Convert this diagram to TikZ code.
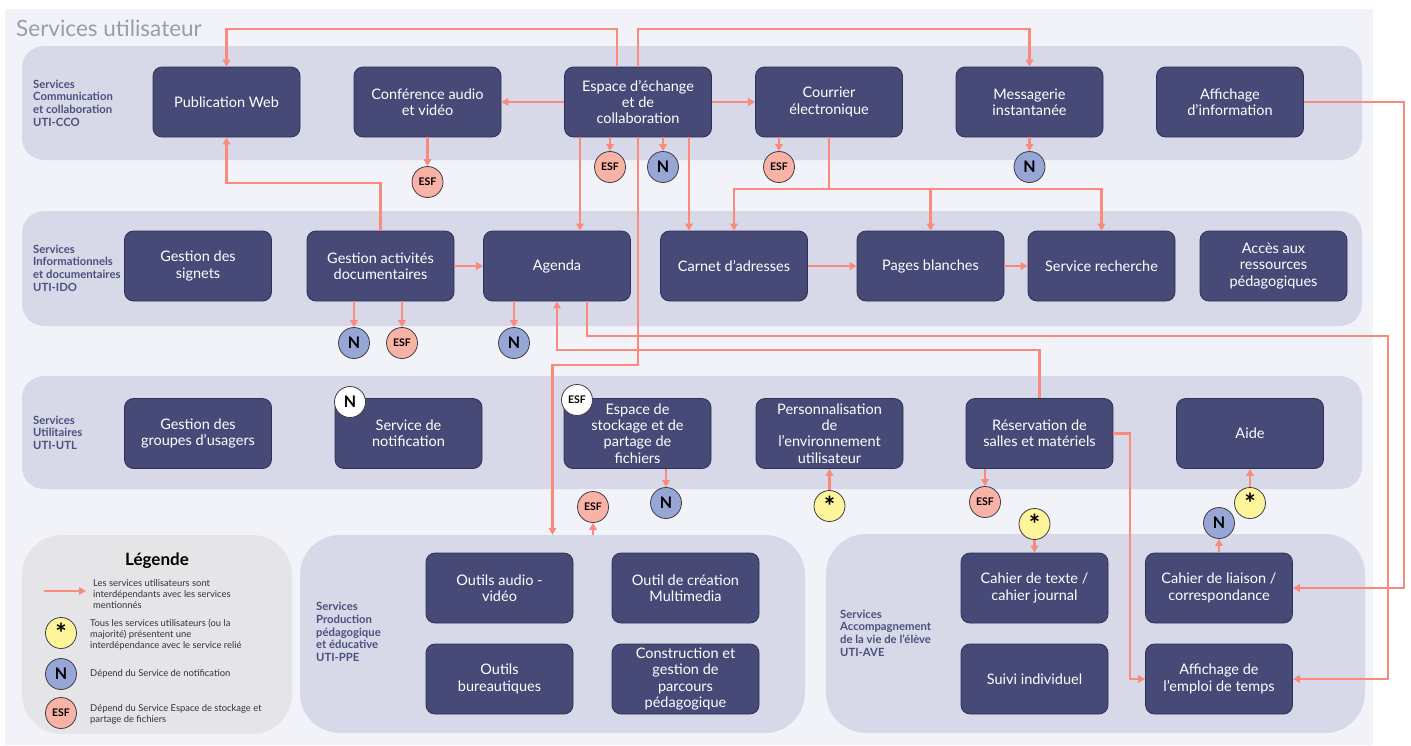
\documentclass[tikz,border=0pt]{standalone}
\usepackage{fontspec}
\setmainfont{Lato}
\usetikzlibrary{arrows.meta}

\definecolor{pagebg}{HTML}{F2F3F9}
\definecolor{bandfill}{HTML}{D8D9E8}
\definecolor{legfill}{HTML}{E5E5E7}
\definecolor{boxfill}{HTML}{474A77}
\definecolor{boxline}{HTML}{2E3058}
\definecolor{linkcol}{HTML}{F98A7C}
\definecolor{esffill}{HTML}{F9B2A6}
\definecolor{nfill}{HTML}{98A6D6}
\definecolor{starfill}{HTML}{FDF49C}
\definecolor{badgeline}{HTML}{3C3C46}
\definecolor{grplabel}{HTML}{4B4F7E}
\definecolor{titlecol}{HTML}{9A9CA8}
\definecolor{legtextcol}{HTML}{333338}

\tikzset{
  band/.style={fill=bandfill, rounded corners=22pt, inner sep=0pt},
  lowband/.style={band, rounded corners=40pt},
  svc/.style={draw=boxline, fill=boxfill, rounded corners=9pt, line width=0.8pt,
    minimum width=147pt, minimum height=70pt, inner sep=2pt, text=white,
    align=center, font=\fontsize{14.5}{16.3}\selectfont},
  grp/.style={anchor=west, align=left, text=grplabel, inner sep=0pt,
    font=\fontsize{11.3}{12.6}\selectfont\bfseries},
  badge/.style={circle, draw=badgeline, line width=0.8pt, minimum size=31pt, inner sep=0pt},
  esf/.style={badge, fill=esffill, font=\fontsize{10.5}{10.5}\selectfont\bfseries},
  ndep/.style={badge, fill=nfill, font=\fontsize{16}{16}\selectfont\bfseries},
  allsvc/.style={badge, fill=starfill, font=\fontsize{27}{27}\selectfont\bfseries},
  esfw/.style={esf, fill=white},
  ndepw/.style={ndep, fill=white},
  link/.style={draw=linkcol, line width=2.1pt, -{Triangle[length=7pt,width=7.5pt]}},
  legtext/.style={anchor=west, align=left, inner sep=0pt, text=legtextcol,
    font=\fontsize{9.4}{11}\selectfont},
}

\newcommand{\astk}{\raisebox{-7.5pt}{*}}

\begin{document}
\begin{tikzpicture}[x=1pt,y=-1pt]
    \useasboundingbox (0,0) rectangle (1411,745);
    \fill[pagebg] (5,9) rectangle (1373,745);

    \node[anchor=west, text=titlecol, inner sep=0pt, font=\fontsize{22.5}{22.5}\selectfont] (title) at (16,28) {Services utilisateur};

    \node[band, minimum width=1340pt, minimum height=114pt] (cco) at (692,103) {};
    \node[band, minimum width=1340pt, minimum height=115pt] (ido) at (692,268.5) {};
    \node[band, minimum width=1340pt, minimum height=113pt] (utl) at (692,432.5) {};
    \node[lowband, fill=legfill, minimum width=270pt, minimum height=199pt] (legend) at (157,634.5) {};
    \node[lowband, minimum width=505pt, minimum height=198pt] (ppe) at (552.5,634) {};
    \node[lowband, minimum width=539pt, minimum height=199pt] (ave) at (1095.5,633.5) {};

    \node[grp] (lblcco) at (33,103) {Services\\Communication\\et collaboration\\UTI-CCO};
    \node[grp] (lblido) at (33,268) {Services\\Informationnels\\et documentaires\\UTI-IDO};
    \node[grp] (lblutl) at (33,432.5) {Services\\Utilitaires\\UTI-UTL};
    \node[grp] (lblppe) at (316,632) {Services\\Production\\pédagogique\\et éducative\\UTI-PPE};
    \node[grp] (lblave) at (840,633) {Services\\Accompagnement\\de la vie de l’élève\\UTI-AVE};

    \node[svc] (pubweb) at (226.5,102) {Publication Web};
    \node[svc] (conf) at (427.5,102) {Conférence audio\\et vidéo};
    \node[svc] (echange) at (638,102) {Espace d’échange\\et de\\collaboration};
    \node[svc] (courrier) at (829,102) {Courrier\\électronique};
    \node[svc] (messag) at (1029.5,102) {Messagerie\\instantanée};
    \node[svc] (affinfo) at (1230,102) {Affichage\\d’information};

    \node[svc] (signets) at (198,266) {Gestion des\\signets};
    \node[svc] (gestdoc) at (380.5,266) {Gestion activités\\documentaires};
    \node[svc] (agenda) at (557,266) {Agenda};
    \node[svc] (carnet) at (734,266) {Carnet d’adresses};
    \node[svc] (pages) at (930.5,266) {Pages blanches};
    \node[svc] (recherche) at (1101.5,266) {Service recherche};
    \node[svc] (acces) at (1273.5,266) {Accès aux\\ressources\\pédagogiques};

    \node[svc] (groupes) at (198,433.5) {Gestion des\\groupes d’usagers};
    \node[svc] (notif) at (408.5,433.5) {Service de\\notification};
    \node[svc] (stockage) at (637.5,433.5) {Espace de\\stockage et de\\partage de\\fichiers};
    \node[svc] (perso) at (829.5,433.5) {Personnalisation\\de\\l’environnement\\utilisateur};
    \node[svc] (reserv) at (1039.5,433.5) {Réservation de\\salles et matériels};
    \node[svc] (aide) at (1250,433.5) {Aide};

    \node[svc] (audio) at (499.5,588) {Outils audio -\\vidéo};
    \node[svc] (multi) at (685.5,588) {Outil de création\\Multimedia};
    \node[svc] (bureau) at (499.5,679) {Outils\\bureautiques};
    \node[svc] (constr) at (685.5,679) {Construction et\\gestion de\\parcours\\pédagogique};
    \node[svc] (cahtexte) at (1034.5,588) {Cahier de texte /\\cahier journal};
    \node[svc] (liaison) at (1219,588) {Cahier de liaison /\\correspondance};
    \node[svc] (suivi) at (1034.5,679) {Suivi individuel};
    \node[svc] (emploi) at (1219,679) {Affichage de\\l’emploi de temps};

    \node[esf] (esfconf) at (427.5,182) {ESF};
    \node[esf] (esfech) at (610,167) {ESF};
    \node[ndep] (nech) at (663,167) {N};
    \node[esf] (esfcour) at (779,167) {ESF};
    \node[ndep] (nmess) at (1029.5,167) {N};
    \node[ndep] (ndoc) at (354,343) {N};
    \node[esf] (esfdoc) at (402,343) {ESF};
    \node[ndep] (nagenda) at (514,343) {N};
    \node[ndepw] (nnotif) at (350,402) {N};
    \node[esfw] (esfstock) at (577,400) {ESF};
    \node[esf] (esfppe) at (593,507) {ESF};
    \node[ndep] (nstock) at (666,503) {N};
    \node[allsvc] (allperso) at (829.5,506) {\astk};
    \node[esf] (esfres) at (985,502) {ESF};
    \node[allsvc] (alltexte) at (1034.5,524) {\astk};
    \node[ndep] (nliaison) at (1219,523) {N};
    \node[allsvc] (allaide) at (1250,503) {\astk};

    \draw[link] ([xshift=-21pt]echange.north) -- ++(0,-38) -| (pubweb.north);
    \draw[link] (echange.north) -- ++(0,-38) -| (messag.north);
    \draw[link] (echange.west) -- (conf.east);
    \draw[link] (echange.east) -- (courrier.west);
    \draw[link] (gestdoc.north) -- ++(0,-48) -| (pubweb.south);
    \draw[link] (conf.south) -- (esfconf.north);

    \draw[link] ([xshift=-58pt]echange.south) -- ([xshift=23pt]agenda.north);
    \draw[link] ([xshift=-28pt]echange.south) -- (esfech.north);
    \draw[link] ([xshift=25pt]echange.south) -- (nech.north);
    \draw[link] ([xshift=51pt]echange.south) -- ([xshift=-45pt]carnet.north);
    \draw[link] (echange.south) -- ++(0,228) -| (ppe.north);

    \draw[link] ([xshift=-50pt]courrier.south) -- (esfcour.north);
    \draw[link] (courrier.south) -- ++(0,52) -| (carnet.north);
    \draw[link] (courrier.south) -- ++(0,52) -| (pages.north);
    \draw[link] (courrier.south) -- ++(0,52) -| (recherche.north);
    \draw[link] (messag.south) -- (nmess.north);
    \draw[link] (affinfo.east) -- ++(100,0) |- (liaison.east);

    \draw[link] (gestdoc.east) -- (agenda.west);
    \draw[link] (carnet.east) -- (pages.west);
    \draw[link] (pages.east) -- (recherche.west);
    \draw[link] ([xshift=-26.5pt]gestdoc.south) -- (ndoc.north);
    \draw[link] ([xshift=21.5pt]gestdoc.south) -- (esfdoc.north);
    \draw[link] ([xshift=-43pt]agenda.south) -- (nagenda.north);
    \draw[link] ([xshift=30pt]agenda.south) -- ++(0,35) -- ++(801,0) |- (emploi.east);
    \draw[link] (reserv.north) -- ++(0,-48) -| (agenda.south);

    \draw[link] (reserv.east) -- ++(17,0) |- (emploi.west);
    \draw[link] ([xshift=-54.5pt]reserv.south) -- (esfres.north);
    \draw[link] ([xshift=28.5pt]stockage.south) -- (nstock.north);
    \draw[link] (allperso.north) -- (perso.south);
    \draw[link] ([xshift=40.5pt]ppe.north) -- (esfppe.south);
    \draw[link] (alltexte.south) -- (cahtexte.north);
    \draw[link] (liaison.north) -- (nliaison.south);
    \draw[link] (allaide.north) -- (aide.south);

    \node[font=\fontsize{17}{17}\selectfont\bfseries, text=black] (legtitle) at (157,561) {Légende};
    \coordinate (legA) at (44,591);
    \coordinate (legB) at (86,591);
    \draw[link] (legA) -- (legB);
    \node[legtext] (legarrow) at (93,594) {Les services utilisateurs sont\\interdépendants avec les services\\mentionnés};
    \node[allsvc] (legall) at (61,633) {\astk};
    \node[legtext] (legalltxt) at (90,635) {Tous les services utilisateurs (ou la\\majorité) présentent une\\interdépendance avec le service relié};
    \node[ndep] (legn) at (61,674) {N};
    \node[legtext] (legntxt) at (90,674) {Dépend du Service de notification};
    \node[esf] (legesf) at (61,713) {ESF};
    \node[legtext] (legesftxt) at (90,714) {Dépend du Service Espace de stockage et\\partage de fichiers};
\end{tikzpicture}
\end{document}
